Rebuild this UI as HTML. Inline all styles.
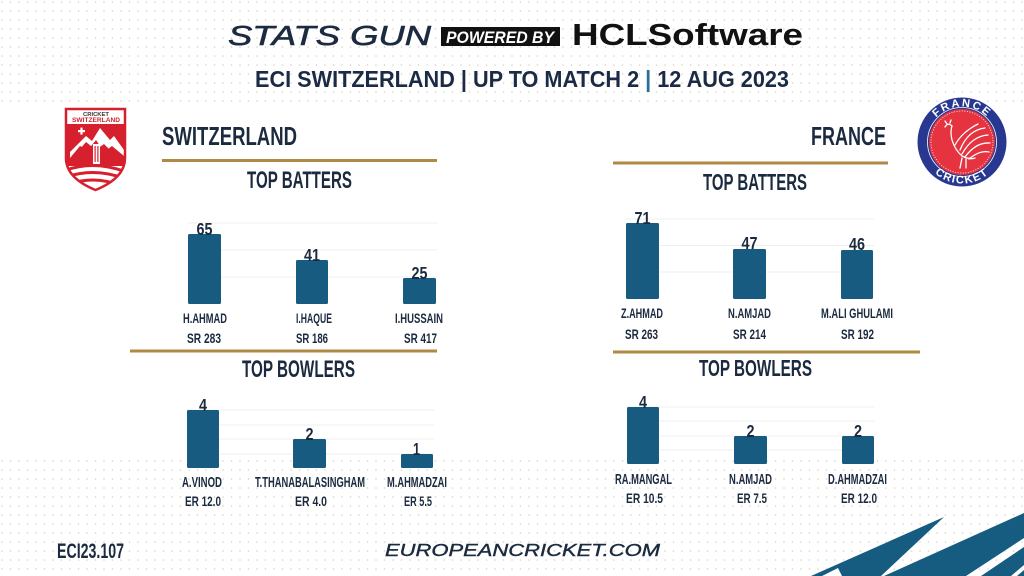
<!DOCTYPE html>
<html>
<head>
<meta charset="utf-8">
<style>
  html,body{margin:0;padding:0;background:#fff;}
  svg{display:block;}
  .c{font-family:"Liberation Sans Narrow","Liberation Sans",sans-serif;font-weight:bold;fill:#1b2a3f;}
</style>
</head>
<body>
<svg width="1024" height="576" viewBox="0 0 1024 576" xmlns="http://www.w3.org/2000/svg">
  <defs>
    <pattern id="dots" width="8.5" height="9" patternUnits="userSpaceOnUse">
      <circle cx="2" cy="2" r="0.8" fill="#d9d0c3"/>
    </pattern>
    <clipPath id="shield">
      <path d="M66,109 H125 V158 Q125,178 95.5,190 Q66,178 66,158 Z"/>
    </clipPath>
    <path id="topArc" d="M926.5,142 A35.5,35.5 0 0 1 997.5,142"/>
    <path id="botArc" d="M920.5,142 A41.5,41.5 0 0 0 1003.5,142"/>
  </defs>

  <!-- background -->
  <rect width="1024" height="576" fill="#ffffff"/>
  <rect x="0" y="0" width="1024" height="108" fill="url(#dots)"/>
  <rect x="0" y="458" width="1024" height="118" fill="url(#dots)"/>

  <!-- header -->
  <text x="228" y="45" font-family="Liberation Sans, sans-serif" font-style="italic" font-size="28" fill="#1c2b40" stroke="#1c2b40" stroke-width="0.6" textLength="203" lengthAdjust="spacingAndGlyphs">STATS GUN</text>
  <rect x="441" y="27" width="119" height="19" fill="#111111"/>
  <text x="446" y="43" font-family="Liberation Sans Narrow, Liberation Sans, sans-serif" font-weight="bold" font-style="italic" font-size="17" fill="#ffffff" textLength="108" lengthAdjust="spacingAndGlyphs">POWERED BY</text>
  <text x="572" y="45" font-family="Liberation Sans, sans-serif" font-weight="bold" font-size="31" fill="#111111" textLength="231" lengthAdjust="spacingAndGlyphs">HCLSoftware</text>
  <text x="255" y="87" font-family="Liberation Sans, sans-serif" font-weight="bold" font-size="23" fill="#1b2a45" textLength="534" lengthAdjust="spacingAndGlyphs">ECI SWITZERLAND | UP TO MATCH 2 <tspan fill="#2a6f96">|</tspan> 12 AUG 2023</text>

  <!-- Swiss logo -->
  <path d="M66,109 H125 V158 Q125,178 95.5,190 Q66,178 66,158 Z" fill="#ffffff"/>
  <g clip-path="url(#shield)">
    <rect x="60" y="124" width="70" height="42" fill="#d7202d"/>
    <polygon points="70,152 86,136 92,141 100,128 110,140 114,136 124,150 124,156 112,146 104,152 96,140 88,150 80,146 70,158" fill="#ffffff"/>
    <polygon points="74,156 86,142 96,150 104,144 120,160 120,166 70,166" fill="#d7202d"/>
    <rect x="93" y="144" width="7" height="20" fill="#ffffff"/>
    <rect x="94.5" y="146" width="1.2" height="16" fill="#d7202d"/>
    <rect x="97.3" y="146" width="1.2" height="16" fill="#d7202d"/>
    <path d="M66,170 Q95,160 126,172" stroke="#d7202d" stroke-width="3" fill="none"/>
    <path d="M66,177 Q95,167 126,179" stroke="#d7202d" stroke-width="3" fill="none"/>
    <path d="M70,184 Q95,175 122,186" stroke="#d7202d" stroke-width="3" fill="none"/>
  </g>
  <rect x="78" y="130" width="7" height="2.2" fill="#ffffff"/>
  <rect x="80.4" y="127.6" width="2.2" height="7" fill="#ffffff"/>
  <path d="M66,109 H125 V158 Q125,178 95.5,190 Q66,178 66,158 Z" fill="none" stroke="#d7202d" stroke-width="2.5"/>
  <text x="83" y="116" font-family="Liberation Sans, sans-serif" font-weight="bold" font-size="5" fill="#333" textLength="26" lengthAdjust="spacingAndGlyphs">CRICKET</text>
  <text x="72" y="122" font-family="Liberation Sans, sans-serif" font-weight="bold" font-size="6.5" fill="#d7202d" textLength="48" lengthAdjust="spacingAndGlyphs">SWITZERLAND</text>

  <!-- France logo -->
  <circle cx="962" cy="142" r="44.5" fill="#283891"/>
  <circle cx="962" cy="142" r="34.5" fill="none" stroke="#ffffff" stroke-width="0.8"/>
  <circle cx="962" cy="142" r="33" fill="#e5333f"/>
  <circle cx="962" cy="142" r="31" fill="none" stroke="#ffffff" stroke-width="0.8" stroke-dasharray="1 1.6"/>
  <g fill="none" stroke="#ffffff" stroke-width="1.3" stroke-linecap="round">
    <path d="M945,127 Q948,122 952,126 Q950,132 952,140 Q955,150 962,156 Q970,160 975,158"/>
    <path d="M947,124 L945,121 M950,123 L951,120"/>
    <path d="M960,150 Q968,130 985,128"/>
    <path d="M962,154 Q972,136 988,135"/>
    <path d="M965,157 Q976,142 990,143"/>
    <path d="M969,159 Q980,150 989,152"/>
    <path d="M955,145 Q962,132 978,124"/>
    <path d="M962,158 L960,168 M966,159 L966,168"/>
  </g>
  <text font-family="Liberation Sans, sans-serif" font-weight="bold" font-size="11" fill="#ffffff" letter-spacing="2"><textPath href="#topArc" startOffset="50%" text-anchor="middle">FRANCE</textPath></text>
  <text font-family="Liberation Sans, sans-serif" font-weight="bold" font-size="11" fill="#ffffff" letter-spacing="1.5"><textPath href="#botArc" startOffset="50%" text-anchor="middle">CRICKET</textPath></text>

  <!-- team headers & gold lines -->
  <text class="c" x="162" y="145" font-size="26" textLength="135" lengthAdjust="spacingAndGlyphs">SWITZERLAND</text>
  <text class="c" x="811" y="145" font-size="26" textLength="75" lengthAdjust="spacingAndGlyphs">FRANCE</text>
  <rect x="162" y="159" width="275" height="3" fill="#b08a45"/>
  <rect x="613" y="161.5" width="275" height="3" fill="#b08a45"/>
  <rect x="130" y="349.5" width="307" height="3" fill="#b08a45"/>
  <rect x="613" y="350.5" width="307" height="3" fill="#b08a45"/>

  <text class="c" x="247" y="188" font-size="24" textLength="105" lengthAdjust="spacingAndGlyphs">TOP BATTERS</text>
  <text class="c" x="703" y="190" font-size="23" textLength="104" lengthAdjust="spacingAndGlyphs">TOP BATTERS</text>
  <text class="c" x="242" y="377" font-size="24" textLength="113" lengthAdjust="spacingAndGlyphs">TOP BOWLERS</text>
  <text class="c" x="699" y="376" font-size="23" textLength="113" lengthAdjust="spacingAndGlyphs">TOP BOWLERS</text>

  <!-- gridlines -->
  <g stroke="#efefef" stroke-width="1">
    <line x1="188" y1="223" x2="437" y2="223"/><line x1="188" y1="250" x2="437" y2="250"/><line x1="188" y1="277" x2="437" y2="277"/>
    <line x1="626" y1="219" x2="874" y2="219"/><line x1="626" y1="245.5" x2="874" y2="245.5"/><line x1="626" y1="272" x2="874" y2="272"/>
    <line x1="187" y1="410" x2="434" y2="410"/><line x1="187" y1="425" x2="434" y2="425"/><line x1="187" y1="439" x2="434" y2="439"/><line x1="187" y1="454" x2="434" y2="454"/>
    <line x1="627" y1="407" x2="875" y2="407"/><line x1="627" y1="421" x2="875" y2="421"/><line x1="627" y1="436" x2="875" y2="436"/><line x1="627" y1="450" x2="875" y2="450"/>
  </g>

  <!-- bars -->
  <g fill="#175b80">
    <rect x="188" y="234" width="33" height="70" rx="1.5"/>
    <rect x="296" y="260" width="32" height="44" rx="1.5"/>
    <rect x="403" y="278" width="33" height="26" rx="1.5"/>
    <rect x="626" y="223" width="33" height="76" rx="1.5"/>
    <rect x="733" y="249" width="33" height="50" rx="1.5"/>
    <rect x="841" y="250" width="32" height="49" rx="1.5"/>
    <rect x="187" y="410" width="32" height="58" rx="1.5"/>
    <rect x="293" y="439" width="33" height="29" rx="1.5"/>
    <rect x="401" y="454" width="32" height="14" rx="1.5"/>
    <rect x="627" y="407" width="32" height="57" rx="1.5"/>
    <rect x="734" y="436" width="33" height="28" rx="1.5"/>
    <rect x="842" y="436" width="32" height="28" rx="1.5"/>
  </g>

  <!-- values -->
  <text class="c" x="196.5" y="235" font-size="17.5" textLength="16" lengthAdjust="spacingAndGlyphs">65</text>
  <text class="c" x="304" y="261" font-size="17.5" textLength="16" lengthAdjust="spacingAndGlyphs">41</text>
  <text class="c" x="411.5" y="279" font-size="17.5" textLength="16" lengthAdjust="spacingAndGlyphs">25</text>
  <text class="c" x="634.5" y="224" font-size="17.5" textLength="16" lengthAdjust="spacingAndGlyphs">71</text>
  <text class="c" x="741.5" y="249" font-size="17.5" textLength="16" lengthAdjust="spacingAndGlyphs">47</text>
  <text class="c" x="849" y="250" font-size="17.5" textLength="16" lengthAdjust="spacingAndGlyphs">46</text>
  <text class="c" x="199" y="411" font-size="17.5" textLength="8" lengthAdjust="spacingAndGlyphs">4</text>
  <text class="c" x="305.5" y="440" font-size="17.5" textLength="8" lengthAdjust="spacingAndGlyphs">2</text>
  <text class="c" x="413" y="455" font-size="17.5" textLength="7" lengthAdjust="spacingAndGlyphs">1</text>
  <text class="c" x="639" y="408" font-size="17.5" textLength="8" lengthAdjust="spacingAndGlyphs">4</text>
  <text class="c" x="746.5" y="437" font-size="17.5" textLength="8" lengthAdjust="spacingAndGlyphs">2</text>
  <text class="c" x="854" y="437" font-size="17.5" textLength="8" lengthAdjust="spacingAndGlyphs">2</text>

  <!-- names -->
  <text class="c" x="183" y="323" font-size="14" textLength="44" lengthAdjust="spacingAndGlyphs">H.AHMAD</text>
  <text class="c" x="296" y="323" font-size="14" textLength="36" lengthAdjust="spacingAndGlyphs">I.HAQUE</text>
  <text class="c" x="395" y="323" font-size="14" textLength="48" lengthAdjust="spacingAndGlyphs">I.HUSSAIN</text>
  <text class="c" x="187" y="343" font-size="14" textLength="34" lengthAdjust="spacingAndGlyphs">SR 283</text>
  <text class="c" x="296" y="343" font-size="14" textLength="32" lengthAdjust="spacingAndGlyphs">SR 186</text>
  <text class="c" x="404" y="343" font-size="14" textLength="33" lengthAdjust="spacingAndGlyphs">SR 417</text>

  <text class="c" x="621" y="318" font-size="14" textLength="42" lengthAdjust="spacingAndGlyphs">Z.AHMAD</text>
  <text class="c" x="728" y="318" font-size="14" textLength="43" lengthAdjust="spacingAndGlyphs">N.AMJAD</text>
  <text class="c" x="821" y="318" font-size="14" textLength="72" lengthAdjust="spacingAndGlyphs">M.ALI GHULAMI</text>
  <text class="c" x="625" y="339" font-size="14" textLength="33" lengthAdjust="spacingAndGlyphs">SR 263</text>
  <text class="c" x="733" y="339" font-size="14" textLength="33" lengthAdjust="spacingAndGlyphs">SR 214</text>
  <text class="c" x="841" y="339" font-size="14" textLength="33" lengthAdjust="spacingAndGlyphs">SR 192</text>

  <text class="c" x="182" y="487" font-size="15" textLength="40" lengthAdjust="spacingAndGlyphs">A.VINOD</text>
  <text class="c" x="255" y="487" font-size="15" textLength="110" lengthAdjust="spacingAndGlyphs">T.THANABALASINGHAM</text>
  <text class="c" x="387" y="487" font-size="15" textLength="60" lengthAdjust="spacingAndGlyphs">M.AHMADZAI</text>
  <text class="c" x="185" y="506" font-size="14" textLength="36" lengthAdjust="spacingAndGlyphs">ER 12.0</text>
  <text class="c" x="295" y="506" font-size="14" textLength="32" lengthAdjust="spacingAndGlyphs">ER 4.0</text>
  <text class="c" x="404" y="506" font-size="14" textLength="28" lengthAdjust="spacingAndGlyphs">ER 5.5</text>

  <text class="c" x="615" y="484" font-size="15" textLength="57" lengthAdjust="spacingAndGlyphs">RA.MANGAL</text>
  <text class="c" x="729" y="484" font-size="15" textLength="43" lengthAdjust="spacingAndGlyphs">N.AMJAD</text>
  <text class="c" x="828" y="484" font-size="15" textLength="59" lengthAdjust="spacingAndGlyphs">D.AHMADZAI</text>
  <text class="c" x="626" y="503" font-size="14" textLength="37" lengthAdjust="spacingAndGlyphs">ER 10.5</text>
  <text class="c" x="737" y="503" font-size="14" textLength="30" lengthAdjust="spacingAndGlyphs">ER 7.5</text>
  <text class="c" x="841" y="503" font-size="14" textLength="36" lengthAdjust="spacingAndGlyphs">ER 12.0</text>

  <!-- footer -->
  <text class="c" x="57" y="558" font-size="21" textLength="67" lengthAdjust="spacingAndGlyphs">ECI23.107</text>
  <text x="385" y="556" font-family="Liberation Sans, sans-serif" font-style="italic" font-size="17.5" fill="#1b2a3f" stroke="#1b2a3f" stroke-width="0.4" textLength="275" lengthAdjust="spacingAndGlyphs">EUROPEANCRICKET.COM</text>

  <!-- bottom-right stripes -->
  <g fill="#165b80">
    <polygon points="944,517 811,576 881,576"/>
    <polygon points="884,576 1024,513 1024,538 966,576"/>
    <polygon points="981,576 1024,547 1024,565 1011,576"/>
    <polygon points="1017,576 1024,570 1024,576"/>
  </g>
  <polygon points="822,576 838,568 842,576" fill="#ffffff"/>
</svg>
</body>
</html>
